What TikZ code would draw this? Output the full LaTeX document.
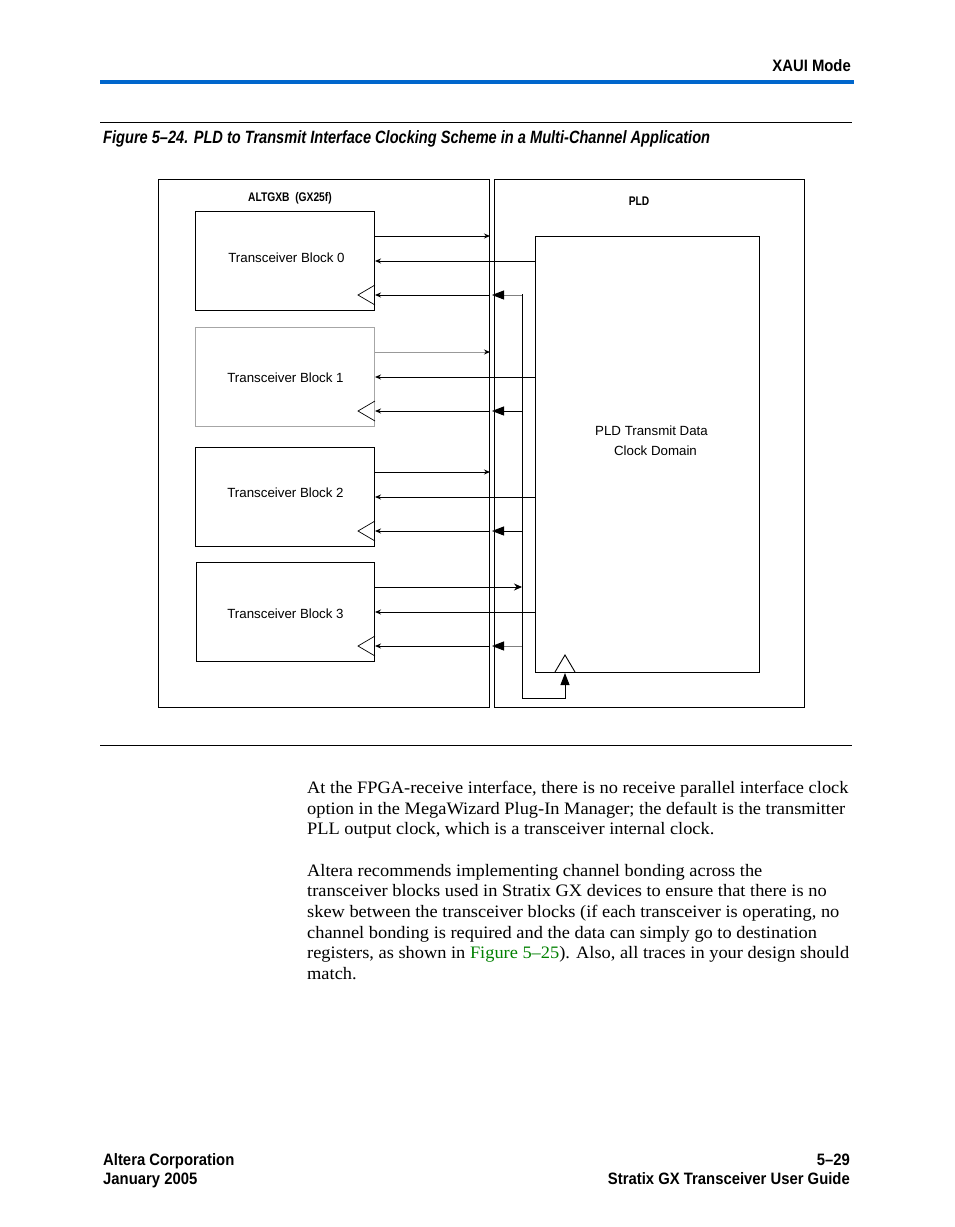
\documentclass[tikz,border=0pt]{standalone}
\usepackage{fontspec}
\setmainfont{Liberation Serif}[FakeStretch=1.05]
\setsansfont{Liberation Sans}
\newfontfamily\narrowsf[FakeStretch=0.82]{Liberation Sans}
\newfontfamily\hdrsf[FakeStretch=0.9]{Liberation Sans}
\usetikzlibrary{arrows.meta,calc}
\definecolor{hdrblue}{RGB}{0,102,204}
\definecolor{linkgreen}{RGB}{0,128,0}
\tikzset{
  box/.style={draw,line width=1pt,inner sep=0pt},
  blocktxt/.style={font=\sffamily\fontsize{13.3}{20}\selectfont,inner sep=0pt},
  hdrtxt/.style={font=\hdrsf\bfseries\fontsize{16.5}{19}\selectfont,inner sep=0pt},
  lbltxt/.style={font=\narrowsf\bfseries\fontsize{12.5}{15}\selectfont,inner sep=0pt},
  bodytxt/.style={font=\fontsize{17.5}{20.7}\selectfont,inner sep=0pt,anchor=base west},
  sig/.style={line width=0.9pt,-{Stealth[length=6pt,width=5pt,color=black]}},
  clk/.style={line width=0.9pt,-{Triangle[length=12pt,width=9pt,color=black]}}
}
\begin{document}
\begin{tikzpicture}[x=1pt,y=-1pt]
\useasboundingbox (0,0) rectangle (954,1227);
% Page header
\node[hdrtxt,anchor=base east] (hdr) at (851,71) {XAUI Mode};
\draw[hdrblue,line width=4pt] (100,82) -- (854,82);
\draw[line width=1pt] (100,122) -- (852,122);
\node[font=\narrowsf\bfseries\itshape\fontsize{17.8}{22}\selectfont,inner sep=0pt,anchor=base west] (title) at (103,143)
  {Figure 5–24. PLD to Transmit Interface Clocking Scheme in a Multi-Channel Application};
% Outer boxes
\node[box,minimum width=331pt,minimum height=528pt,anchor=north west] (gxb) at (158,179) {};
\node[box,minimum width=310pt,minimum height=528pt,anchor=north west] (pld) at (494,179) {};
\node[lbltxt] (gxblbl) at (290,198) {ALTGXB\ \ (GX25f)};
\node[lbltxt] (pldlbl) at (639,201) {PLD};
\node[box,minimum width=224pt,minimum height=436pt,anchor=north west] (pldin) at (535,236) {};
\node[blocktxt,align=center] (domain) at (651.5,441) {PLD Transmit Data\\\hspace*{8pt}Clock Domain};
% Transceiver blocks
\foreach \i/\x/\t/\c/\dx/\dy in {0/195/211/black/1.5/-3.5,1/195/327/gray!70/0.5/0.5,2/195/447/black/0.5/-4.5,3/196/562/black/0/1.5} {
  \node[box,draw=\c,minimum width=374pt-\x pt,minimum height=99pt,anchor=north west] (tb\i) at (\x,\t) {};
  \node[blocktxt] (tb\i txt) at ($(tb\i.center)+(\dx,\dy)$) {Transceiver Block \i};
}
% Clock bus from the PLD
\coordinate (bus) at (522,294);
\coordinate (bend) at (522,698);
\coordinate (clkin) at (565,698);
\draw[line width=0.9pt] (555,672) -- (565,655) -- (575,672);
\draw[clk] (bend) -- (clkin) -- (pldin.south -| clkin);
\draw[line width=0.9pt] (bus) -- (bend);
% Signals of each block
\foreach \i in {0,...,3} {
  \draw[line width=0.7pt] ($(tb\i.south east)+(0,-26)$) -- ($(tb\i.south east)+(-17,-16)$) -- ($(tb\i.south east)+(0,-6)$);
  \draw[sig] (tb\i.north east) ++(0,50) coordinate (r\i) ++(161,0) -- (r\i);
  \draw[sig] (tb\i.south east) ++(0,-16) coordinate (c\i) ++(114,0) -- (c\i);
}
\foreach \i/\c in {0/gray,1/black,2/black,3/gray}
  \draw[clk,draw=\c] (c\i -| bus) -- ($(c\i -| pld.west)+(-2,0)$);
\foreach \i/\c in {0/black,1/gray!80,2/black}
  \draw[sig,draw=\c] (tb\i.north east) ++(0,25) coordinate (d\i) -- (d\i -| gxb.east);
\draw[sig,-{Stealth[length=8pt,width=7pt]}] (tb3.north east) ++(0,25) coordinate (d3) -- (d3 -| bus);
\draw[line width=1pt] (100,745) -- (852,745);
% Body text
\node[bodytxt] (p1a) at (307,793) {At the FPGA-receive interface, there is no receive parallel interface clock};
\node[bodytxt] (p1b) at (307,814) {option in the MegaWizard Plug-In Manager; the default is the transmitter};
\node[bodytxt] (p1c) at (307,834) {PLL output clock, which is a transceiver internal clock.};
\node[bodytxt] (p2a) at (307,876) {Altera recommends implementing channel bonding across the};
\node[bodytxt] (p2b) at (307,896) {transceiver blocks used in Stratix GX devices to ensure that there is no};
\node[bodytxt] (p2c) at (307,917) {skew between the transceiver blocks (if each transceiver is operating, no};
\node[bodytxt] (p2d) at (307,938) {channel bonding is required and the data can simply go to destination};
\node[bodytxt] (p2e) at (307,958) {registers, as shown in \textcolor{linkgreen}{Figure 5–25}). Also, all traces in your design should};
\node[bodytxt] (p2f) at (307,979) {match.};
% Page footer
\node[hdrtxt,anchor=base west] (ftl1) at (103,1165) {Altera Corporation};
\node[hdrtxt,anchor=base west] (ftl2) at (103,1184) {January 2005};
\node[hdrtxt,anchor=base east] (ftr1) at (850,1165) {5–29};
\node[hdrtxt,anchor=base east] (ftr2) at (850,1184) {Stratix GX Transceiver User Guide};
\end{tikzpicture}
\end{document}
